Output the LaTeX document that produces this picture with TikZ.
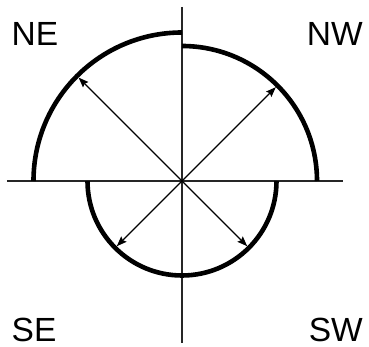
\documentclass[tikz,border=0pt]{standalone}
\usepackage{fontspec}
\setmainfont{Liberation Sans}
\usetikzlibrary{arrows.meta}
\begin{document}
\begin{tikzpicture}[x=1pt,y=1pt,
  axis/.style={line width=1.3pt,draw=black!85},
  rim/.style={line width=4.6pt,draw=black},
  ray/.style={line width=1.1pt,-{Stealth[length=10pt,width=7.5pt,inset=1.5pt]}},
  lbl/.style={inner sep=0pt,font=\fontsize{33.5}{36}\selectfont}]
\useasboundingbox (-182,-166) rectangle (187,181);
\coordinate (O) at (0,0);
\coordinate (T) at (0,174);
\coordinate (B) at (0,-162);
\coordinate (L) at (-175,0);
\coordinate (R) at (161,0);
\draw[axis] (T) -- (B);
\draw[axis] (L) -- (R);
% rims
\draw[rim] (0,148.5) arc[start angle=90,end angle=180,radius=148.5];
\draw[rim] (135,0) arc[start angle=0,end angle=90,radius=135];
\draw[rim] (-94.5,0) arc[start angle=180,end angle=360,radius=94.5];
% arrow tips
\coordinate (tNE) at (135:146.2);
\coordinate (tNW) at (45:132.7);
\coordinate (tSE) at (225:92.2);
\coordinate (tSW) at (315:92.2);
\draw[ray] (O) -- (tNE);
\draw[ray] (O) -- (tNW);
\draw[ray] (O) -- (tSE);
\draw[ray] (O) -- (tSW);
% labels
\node[lbl,anchor=base west] (ne) at (-170.5,135.3) {NE};
\node[lbl,anchor=base east] (nw) at (181,135.3) {NW};
\node[lbl,anchor=base west] (se) at (-170.5,-160.5) {SE};
\node[lbl,anchor=base east] (sw) at (181,-160.5) {SW};
\end{tikzpicture}
\end{document}
